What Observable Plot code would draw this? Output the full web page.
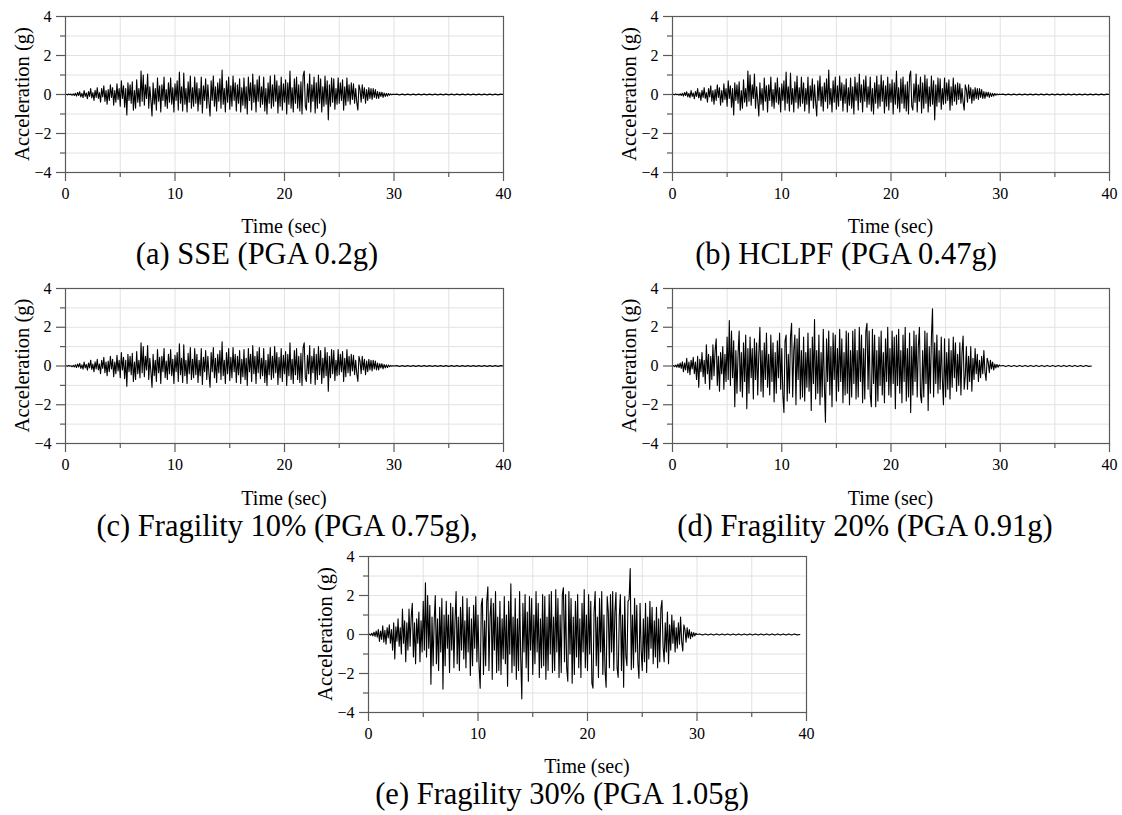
<!DOCTYPE html>
<html>
<head>
<meta charset="utf-8">
<script src="https://cdn.jsdelivr.net/npm/d3@7"></script>
<script src="https://cdn.jsdelivr.net/npm/@observablehq/plot@0.6"></script>
<style>
  html, body { margin: 0; padding: 0; background: #fff; }
  #fig { position: relative; width: 1122px; height: 815px; font-family: "Liberation Serif", "Times New Roman", serif; }
  #fig > svg.panel { position: absolute; }
  #labels { position: absolute; left: 0; top: 0; pointer-events: none; }
</style>
</head>
<body>
<div id="fig"></div>
<script>
// ---- data ----
const dt = 0.1;           // sample step of the transcribed strong-motion part (s)
const strongEnd = 30;     // end of strong motion (s)

// panels (a), (b), (c) show the same record
const accelABC = [
  0, 0.01, -0.02, 0.03, -0.01, 0.02, -0.04, 0.03, -0.05, 0.06,
  -0.08, 0.1, -0.05, 0.14, -0.12, 0.06, -0.16, 0.2, -0.1, 0.08,
  -0.22, 0.15, -0.1, 0.3, -0.18, 0.1, -0.3, 0.22, -0.15, 0.35,
  -0.2, 0.1, -0.4, 0.3, -0.12, 0.45, -0.35, 0.2, -0.5, 0.25,
  -0.3, 0.5, -0.15, 0.35, -0.55, 0.2, -0.4, 0.55, -0.25, 0.3,
  -0.6, 0.7, -0.2, 0.45, -0.65, 0.3, -1.05, 0.6, -0.3, 0.5,
  -0.45, 0.65, -0.8, 0.2, -0.7, 0.75, -0.4, 0.3, -0.6, 1.2,
  -0.35, 1.0, -0.55, 0.5, -0.2, 1.05, -0.7, 0.4, -0.3, -1.1,
  0.6, -0.5, 0.3, -0.8, 0.85, -0.35, 0.45, -0.9, 0.5, -0.3,
  0.9, -0.6, 0.25, -0.7, 0.6, -0.4, 0.85, -0.5, 0.35, -0.9,
  0.55, -0.3, 0.7, -0.8, 1.15, -0.45, 0.4, -0.85, 1.1, -0.5,
  0.3, -0.9, 0.65, -0.4, 0.95, -0.7, 0.35, -0.6, 0.9, -0.45,
  0.6, -0.85, 0.3, -0.5, 0.9, -0.95, 0.45, -0.3, 0.8, -0.7,
  0.5, -0.4, -1.1, 0.7, -0.3, 0.95, -0.6, 0.4, -0.85, 0.6,
  -0.35, 0.8, -0.7, 1.25, -0.5, 0.3, -0.9, 0.7, -0.4, 0.9,
  -0.75, 0.45, -0.6, 0.95, -0.3, 0.6, -0.85, 0.5, -0.45, 0.8,
  -0.9, 0.35, -0.55, 0.85, -0.7, 0.4, -1.0, 0.9, -0.3, 0.6,
  -0.8, 1.05, -0.4, 0.5, -0.9, 0.75, -0.35, 0.95, -0.65, 0.4,
  -0.5, 0.9, -0.85, 0.3, -1.0, 0.6, -0.45, 0.95, -0.7, 0.5,
  -0.6, 1.0, -0.35, 0.7, -0.95, 0.45, -0.6, 0.9, -0.8, 0.55,
  -0.4, 0.75, -1.0, 0.6, -0.5, 1.2, -0.7, 0.35, -0.9, 0.8,
  -0.45, 0.9, -0.7, 0.5, -0.85, 0.65, -1.0, 0.95, 1.2, -0.6,
  -0.8, 0.55, -0.4, 1.05, -0.9, 0.5, -0.35, 0.9, -0.95, 0.6,
  -0.7, 1.0, -0.45, 0.8, -0.9, 0.4, -0.6, 0.95, -0.5, 0.7,
  -1.3, 0.5, -0.6, 0.85, -0.4, 0.8, -0.75, 0.3, -0.5, 0.85,
  -0.45, 0.6, -0.3, 0.75, -0.8, 0.4, -0.55, 0.85, -0.35, 0.5,
  -0.5, 0.6, -0.25, 0.55, -0.45, 0.3, -0.4, -0.8, 0.5, 0.25,
  -0.4, 0.5, -0.2, 0.35, -0.45, 0.25, -0.3, 0.35, -0.2, 0.3,
  -0.25, 0.3, -0.15, 0.25, -0.2, 0.15, -0.2, 0.12, -0.1, 0.12,
  -0.15, 0.08, -0.1, 0.06, -0.08, 0.05, -0.04, 0.03, -0.02, 0.02,
  0
];

const accelD = [
  0, 0.02, -0.03, 0.05, -0.06, 0.1, -0.08, 0.15, -0.12, 0.22,
  -0.3, 0.15, -0.2, 0.4, -0.35, 0.2, -0.45, 0.3, -0.15, 0.45,
  -0.4, 0.2, -0.7, 0.5, -1.1, 0.35, -0.3, 0.7, -0.55, 0.3,
  -0.9, 1.1, -0.4, 0.6, -1.2, 0.5, -0.7, 1.1, -0.5, 0.8,
  1.4, -1.0, 0.5, -1.3, 0.7, -0.4, 1.0, -1.2, 0.6, -0.8,
  1.5, -0.7, 2.35, -1.0, 1.8, -0.6, 1.3, -2.1, 0.8, -1.4,
  0.6, 1.8, -1.3, 0.7, -1.6, 1.2, -0.8, 1.6, -2.2, 0.9,
  -1.4, 1.5, -0.6, 0.9, -1.7, 1.4, -0.7, 1.2, -1.5, 0.6,
  2.0, -1.3, 0.8, -1.6, 1.2, -0.7, 1.7, -1.1, 0.6, -1.5,
  1.6, -0.8, 1.2, -1.85, 0.7, -1.4, 1.3, -0.6, 1.7, -1.2,
  0.9, -1.5, -2.4, 1.3, 1.6, -1.8, 0.6, -1.4, 1.5, 2.2,
  -1.6, 0.8, 1.6, -2.0, 1.4, -0.7, 1.95, -1.7, 0.8, -1.6,
  1.5, -1.8, 0.7, -1.1, 1.7, -1.3, 0.9, -2.3, 1.5, -0.9,
  2.4, -1.7, 0.8, -1.4, 1.6, -2.0, 0.7, -1.6, 1.9, -1.0,
  -2.9, 1.4, -0.8, 1.8, -1.5, 1.0, -2.1, 1.7, -0.7, 1.6,
  -1.8, 0.9, -1.3, 1.9, -0.8, 1.4, -1.9, 0.7, -1.5, 1.8,
  -1.4, 1.7, -2.0, 0.8, -1.6, 1.8, -0.9, 1.9, -1.7, 0.8,
  -1.6, 2.0, -0.8, 1.6, -1.9, 0.9, -1.7, 1.8, 2.2, -1.2,
  1.8, -1.5, -2.1, 1.9, -0.9, 1.6, -2.1, 0.8, -1.8, 1.5,
  -1.0, 1.8, -1.5, 0.7, -1.9, 1.4, -0.8, 2.0, -1.5, 0.9,
  -1.6, 1.8, -0.9, 1.5, -2.2, 1.6, -1.0, 1.9, -1.4, 0.8,
  -1.9, 1.6, -0.8, 2.0, -1.8, 0.9, -1.6, 1.7, -2.4, 1.0,
  -1.5, 1.8, -0.8, 1.6, -1.6, 1.0, 2.0, -1.5, -1.9, 0.8,
  -1.6, 1.8, -0.9, 1.7, -2.3, 1.0, -1.4, 1.5, 2.95, -1.6,
  1.2, -0.9, 1.6, -1.4, 0.8, -1.2, 1.5, -0.7, -2.0, 1.4,
  -1.6, 0.7, -1.2, 1.4, -1.7, 0.8, -1.1, 1.5, -0.6, 1.2,
  -1.3, 0.6, -1.0, 1.2, -1.5, 0.7, 1.55, -1.2, -0.5, 1.0,
  -1.2, 0.5, -0.8, 1.0, -1.3, 0.4, -0.7, 0.9, -0.4, 0.6,
  -0.8, 0.3, -0.6, 0.5, -0.4, 0.8, -0.3, -0.75, 0.4, 0.2,
  -0.35, 0.3, -0.15, 0.2, -0.2, 0.1, -0.1, 0.08, -0.06, 0.05,
  0
];

const accelE = [
  0, 0.02, -0.04, 0.06, -0.07, 0.12, -0.1, 0.18, -0.14, 0.26,
  -0.35, 0.18, -0.25, 0.45, -0.4, 0.22, -0.5, 0.35, -0.18, 0.5,
  -0.45, 0.25, -0.8, 0.6, -1.25, 0.4, -0.35, 0.8, -0.6, 0.35,
  -1.0, 1.3, -0.45, 0.7, -1.4, 0.6, -0.8, 1.3, -0.6, 0.9,
  1.6, -1.15, 0.6, -1.5, 0.8, -0.45, 1.15, -1.4, 0.7, -0.9,
  1.7, -0.8, 2.65, -1.15, 2.0, -0.7, 1.5, -2.55, 0.9, -1.6,
  0.7, 2.0, -1.5, 0.8, -1.85, 1.4, -0.9, 1.85, -2.8, 1.0,
  -1.6, 1.7, -0.7, 1.0, -1.95, 1.6, -0.8, 1.4, -1.7, 0.7,
  2.2, -1.5, 0.9, -1.85, 1.4, -0.8, 1.95, -1.25, 0.7, -1.7,
  1.85, -0.9, 1.4, -2.1, 0.8, -1.6, 1.5, -0.7, 1.95, -1.4,
  1.0, -1.7, -2.75, 1.5, 1.85, -2.05, 0.7, -1.6, 1.7, 2.45,
  -1.85, 0.9, 1.85, -2.3, 1.6, -0.8, 2.2, -1.95, 0.9, -1.85,
  1.7, -2.05, 0.8, -1.25, 1.95, -1.5, 1.0, -2.65, 1.7, -1.0,
  2.6, -1.95, 0.9, -1.6, 1.85, -2.3, 0.8, -1.85, 2.2, -1.15,
  -3.3, 1.6, -0.9, 2.05, -1.7, 1.15, -2.4, 1.95, -0.8, 1.85,
  -2.05, 1.0, -1.5, 2.2, -0.9, 1.6, -2.2, 0.8, -1.7, 2.05,
  -1.6, 1.95, -2.3, 0.9, -1.85, 2.05, -1.0, 2.2, -1.95, 0.9,
  -1.85, 2.3, -0.9, 1.85, -2.2, 1.0, -1.95, 2.05, 2.4, -1.4,
  2.05, -1.7, -2.4, 2.2, -1.0, 1.85, -2.5, 0.9, -2.05, 1.7,
  -1.15, 2.05, -1.7, 0.8, -2.2, 1.6, -0.9, 2.3, -1.7, 1.0,
  -1.85, 2.05, -1.0, 1.7, -2.5, -2.75, 1.15, 2.2, -1.6, 0.9,
  -2.2, 1.85, -0.9, 2.2, -2.05, 1.0, -1.85, -2.7, 1.95, 1.15,
  -1.7, 2.05, -0.9, 2.2, -1.85, 1.15, 2.15, -1.7, -2.2, 0.9,
  2.05, -1.85, 1.0, -2.7, 1.95, -1.1, -1.6, 1.7, 1.8, 3.38,
  -1.8, 1.0, -1.7, 1.85, -0.9, 1.5, -1.45, -2.24, 1.6, -0.8,
  -1.85, 0.8, -1.4, 1.6, -1.95, 0.9, -1.25, 1.7, -0.7, 1.4,
  -1.5, 0.7, -1.15, 1.4, -1.7, 0.8, -1.4, 1.3, 1.75, -0.6,
  -1.4, 0.6, -0.9, 1.15, -1.5, 0.5, -0.8, 1.0, -0.45, 0.7,
  -0.9, 0.35, -0.7, 0.6, -0.5, 0.9, -0.35, -0.85, 0.5, 0.25,
  -0.4, 0.35, -0.18, 0.25, -0.22, 0.12, -0.12, 0.1, -0.07, 0.06,
  0
];

// quiet tails after strong motion (evenly spaced up to the record end)
const tailABC = [0.02, -0.02, 0.02, -0.02, 0.02, -0.02, 0.02, -0.02, 0.02, -0.02,
                 0.02, -0.02, 0.02, -0.02, 0.02, -0.02, 0.02, -0.02, 0.02, -0.02,
                 0.02, -0.02, 0.02, -0.02, 0.02, -0.02, 0.02, -0.02, 0.02, -0.02,
                 0.02, -0.02, 0.02, -0.02, 0.02, -0.02, 0.02, -0.02, 0.02, 0];
const tailD = [0.03, -0.03, 0.03, -0.03, 0.03, -0.03, 0.03, -0.03, 0.03, -0.03,
               0.03, -0.03, 0.03, -0.03, 0.03, -0.03, 0.03, -0.03, 0.03, -0.03,
               0.03, -0.03, 0.03, -0.03, 0.03, -0.03, 0.03, -0.03, 0.03, -0.03,
               0.03, -0.02, 0];
const tailE = [0.03, -0.03, 0.03, -0.03, 0.03, -0.03, 0.03, -0.03, 0.03, -0.03,
               0.03, -0.03, 0.03, -0.03, 0.03, -0.03, 0.03, -0.03, 0.03, -0.03,
               0.03, -0.03, 0.03, -0.03, 0.03, -0.03, 0.03, -0.03, 0.03, -0.03,
               0.03, -0.03, 0.03, -0.03, 0.03, -0.02, 0];
const recordEnd = {abc: 40, d: 38.35, e: 39.4};

const xMajor = [0, 10, 20, 30, 40];
const xMinor = [5, 15, 25, 35];
const yMajor = [-4, -2, 0, 2, 4];
const yMinor = [-3, -1, 1, 3];
const xGrid = [5, 10, 15, 20, 25, 30, 35];
const yGrid = [-3, -2, -1, 1, 2, 3];

const captions = ["(a) SSE (PGA 0.2g)", "(b) HCLPF (PGA 0.47g)", "(c) Fragility 10% (PGA 0.75g),",
                  "(d) Fragility 20% (PGA 0.91g)", "(e) Fragility 30% (PGA 1.05g)"];
const xTitle = "Time (sec)";
const yTitle = "Acceleration (g)";

// ---- layout ----
const panels = [
  {accel: accelABC, tail: tailABC, end: recordEnd.abc, left: 65,  top: 16,  w: 438, h: 156, capX: 257},
  {accel: accelABC, tail: tailABC, end: recordEnd.abc, left: 672, top: 16,  w: 437, h: 156, capX: 846},
  {accel: accelABC, tail: tailABC, end: recordEnd.abc, left: 65,  top: 288, w: 438, h: 155, capX: 287},
  {accel: accelD,   tail: tailD,   end: recordEnd.d,   left: 672, top: 288, w: 437, h: 155, capX: 865},
  {accel: accelE,   tail: tailE,   end: recordEnd.e,   left: 368, top: 556, w: 438, h: 156, capX: 562}
];

const FONT = '"Liberation Serif", "Times New Roman", serif';
const ML = 65, MT = 16, MR = 15, MB = 36;
const axisGrey = "#5a5a5a";
const fig = document.getElementById("fig");

panels.forEach((p, k) => {
  const series = p.accel.map((a, i) => ({t: i * dt, a}))
    .concat(p.tail.map((a, i) => ({t: strongEnd + (i + 1) * (p.end - strongEnd) / p.tail.length, a})));
  const chart = Plot.plot({
    width: ML + p.w + MR,
    height: MT + p.h + MB,
    marginLeft: ML, marginTop: MT, marginRight: MR, marginBottom: MB,
    style: {fontFamily: FONT, fontSize: "16px", color: "#000", background: "transparent", overflow: "visible"},
    x: {domain: [0, 40], axis: null},
    y: {domain: [-4, 4], axis: null},
    marks: [
      Plot.gridX(xGrid, {stroke: "#e2e2e2", strokeOpacity: 1, strokeWidth: 1}),
      Plot.gridY(yGrid, {stroke: "#e2e2e2", strokeOpacity: 1, strokeWidth: 1}),
      Plot.line(series, {x: "t", y: "a", stroke: "#000", strokeWidth: 1.1}),
      Plot.frame({stroke: axisGrey, strokeWidth: 1.2}),
      Plot.axisX(xMajor, {anchor: "bottom", tickSize: 9, tickPadding: 6, stroke: axisGrey, fill: "#000", fontSize: 16, label: null, strokeWidth: 1.2}),
      Plot.axisX(xMinor, {anchor: "bottom", tickSize: 5, tickFormat: () => "", stroke: axisGrey, label: null, strokeWidth: 1.2}),
      Plot.axisY(yMajor, {anchor: "left", tickSize: 9, tickPadding: 5, stroke: axisGrey, fill: "#000", fontSize: 16, label: null, strokeWidth: 1.2}),
      Plot.axisY(yMinor, {anchor: "left", tickSize: 5, tickFormat: () => "", stroke: axisGrey, label: null, strokeWidth: 1.2})
    ]
  });
  chart.classList.add("panel");
  chart.setAttribute("font-family", FONT);
  chart.style.left = (p.left - ML) + "px";
  chart.style.top = (p.top - MT) + "px";
  fig.appendChild(chart);
});

// ---- titles and captions ----
const lab = d3.select(fig).append("svg").attr("id", "labels")
  .attr("width", 1122).attr("height", 815)
  .attr("font-family", FONT).style("font-family", FONT);

panels.forEach((p, k) => {
  lab.append("text")
    .attr("x", p.left + p.w / 2).attr("y", p.top + 217)
    .attr("text-anchor", "middle").attr("font-size", 20).text(xTitle);
  lab.append("text")
    .attr("transform", `translate(${p.left - 36},${p.top + p.h / 2}) rotate(-90)`)
    .attr("text-anchor", "middle").attr("font-size", 20.5).text(yTitle);
  lab.append("text")
    .attr("x", p.capX).attr("y", p.top + 248)
    .attr("text-anchor", "middle").attr("font-size", 30.5).text(captions[k]);
});
</script>
</body>
</html>
